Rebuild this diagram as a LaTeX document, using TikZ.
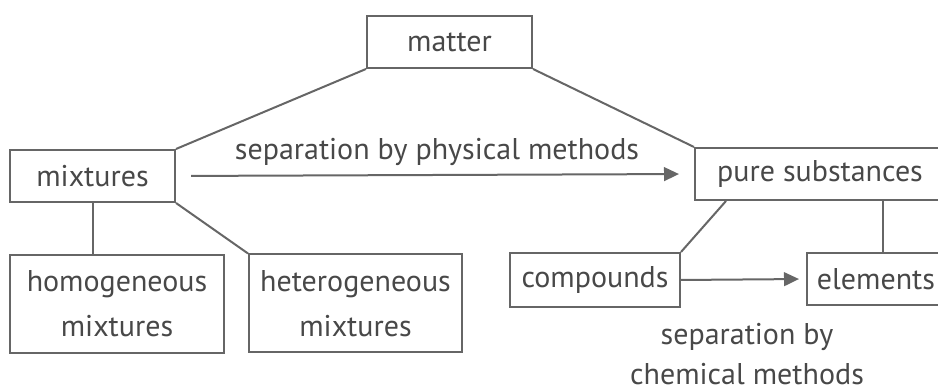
\documentclass[tikz,border=0pt]{standalone}
\usepackage{fontspec}
\setmainfont{PT Sans}
\usetikzlibrary{arrows.meta}
\definecolor{inkgray}{HTML}{484848}
\definecolor{linegray}{HTML}{666666}
\begin{document}
\begin{tikzpicture}[x=0.4pt,y=-0.4pt,
    box/.style={draw=linegray,line width=0.8pt,text=inkgray,inner sep=0pt,
      minimum height=20.8pt,font=\fontsize{12}{14}\selectfont,align=center},
    tallbox/.style={box,minimum height=39.2pt,font=\fontsize{12}{18}\selectfont},
    note/.style={text=inkgray,font=\fontsize{12}{16}\selectfont,align=center}]
      \clip (0,0) rectangle (938,390);
      \draw
        (449.5,42) node[box,minimum width=66pt] (matter){matter}
        (92.5,176) node[box,minimum width=66pt] (mixtures){mixtures}
        (820,174) node[box,minimum width=100pt] (pure){pure substances}
        (117,304) node[tallbox,minimum width=85.6pt] (homogeneous){homogeneous\\mixtures}
        (355.5,303.5) node[tallbox,minimum width=85.2pt] (heterogeneous){heterogeneous\\mixtures}
        (595,280) node[box,minimum width=68pt,minimum height=21.6pt] (compounds){compounds}
        (876,279) node[box,minimum width=55.2pt] (elements){elements}
        (437,152) node[note] (physical){separation by physical methods}
        (747,354) node[note] (chemical){separation by\\chemical methods};
      \begin{scope}[draw=linegray,line width=0.8pt]
        \draw (matter.south west) to (mixtures.north east);
        \draw (matter.south east) to (pure.north west);
        \draw (mixtures.south) to (mixtures.south |- homogeneous.north);
        \draw (mixtures.south east) to (heterogeneous.north west);
        \draw ([xshift=12.8pt]pure.south west) to (compounds.north east);
        \draw ([xshift=2.8pt]pure.south -| elements.north) to ([xshift=2.8pt]elements.north);
      \end{scope}
      \begin{scope}[draw=linegray,line width=0.8pt,
          -{Triangle[length=6pt,width=5.5pt,fill=linegray]}]
        \draw[shorten <=6pt,shorten >=6pt] (mixtures.east) to (pure.west);
        \draw[shorten >=2.8pt] (compounds.east) to (elements.west);
      \end{scope}
    \end{tikzpicture}
\end{document}
